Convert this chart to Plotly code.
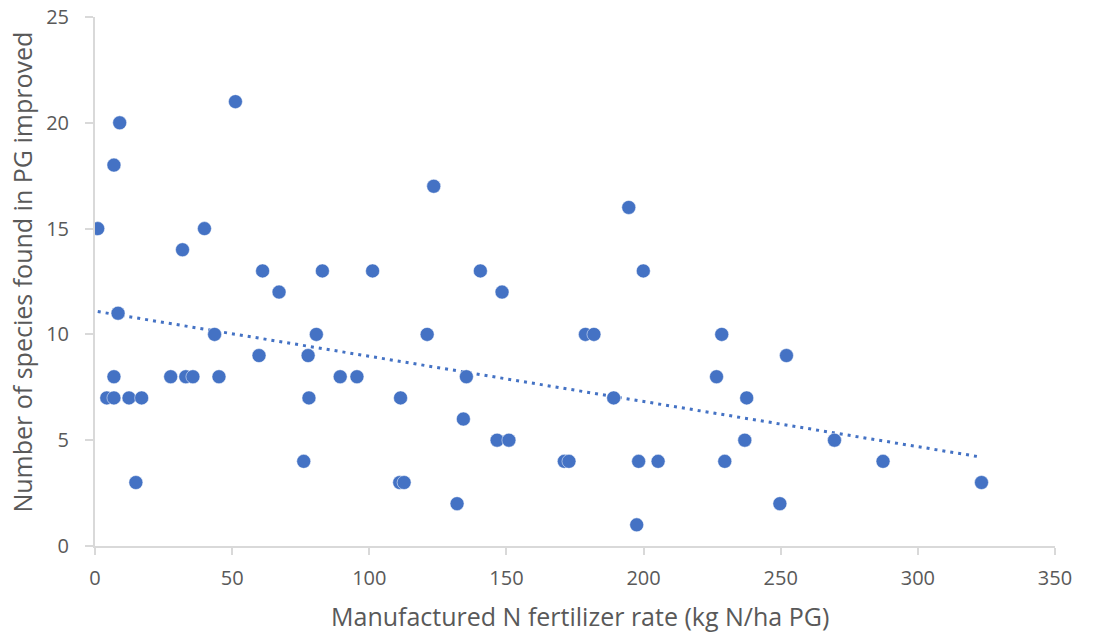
import numpy as np
import plotly.graph_objects as go

n_rate = [1.0, 6.9, 9.0, 51.2, 31.9, 39.9, 61.1, 67.1, 82.9, 8.4,
          4.3, 6.9, 6.9, 12.4, 17.0, 14.9, 27.6, 33.1, 35.7, 45.2,
          43.6, 59.8, 77.7, 78.0, 76.1, 80.7, 89.4, 95.5, 123.5, 194.6,
          101.2, 140.5, 199.9, 148.4, 121.1, 178.8, 181.9, 228.5, 135.4, 226.6,
          111.4, 189.1, 134.3, 146.6, 150.9, 171.1, 172.8, 198.2, 205.3, 229.6,
          111.1, 112.7, 132.0, 197.5, 252.1, 237.6, 236.9, 269.6, 287.3, 323.2,
          249.7]
species = [15, 18, 20, 21, 14, 15, 13, 12, 13, 11,
           7, 7, 8, 7, 7, 3, 8, 8, 8, 8,
           10, 9, 9, 7, 4, 10, 8, 8, 17, 16,
           13, 13, 13, 12, 10, 10, 10, 10, 8, 8,
           7, 7, 6, 5, 5, 4, 4, 4, 4, 4,
           3, 3, 2, 1, 9, 7, 5, 5, 4, 3,
           2]

x_ticks = [0, 50, 100, 150, 200, 250, 300, 350]
y_ticks = [0, 5, 10, 15, 20, 25]

x_title = "Manufactured N fertilizer rate (kg N/ha PG)"
y_title = "Number of species found in PG improved"

blue = "#4472C4"
xa = np.array(n_rate)
ya = np.array(species)
slope, intercept = np.polyfit(xa, ya, 1)
tx = np.array([xa.min(), xa.max()])
ty = slope * tx + intercept

fig = go.Figure()
fig.add_trace(go.Scatter(x=list(tx), y=list(ty), mode="lines",
                         line=dict(color=blue, width=3, dash="3px,5px"),
                         hoverinfo="skip", showlegend=False))
fig.add_trace(go.Scatter(x=n_rate, y=species, mode="markers",
                         marker=dict(color=blue, size=14,
                                     line=dict(color="white", width=0.5)),
                         showlegend=False))

axis_font = dict(family="Open Sans, sans-serif", size=20, color="#595959")
title_font = dict(family="Open Sans, sans-serif", size=25, color="#595959")

fig.update_layout(
    width=1098, height=634,
    margin=dict(l=95, r=43, t=17, b=88, autoexpand=False),
    plot_bgcolor="white", paper_bgcolor="white",
    xaxis=dict(range=[0, 350], tickvals=x_ticks, showgrid=False, zeroline=False,
               showline=True, linecolor="#D9D9D9", linewidth=2, automargin=False,
               ticks="outside", ticklen=7, tickcolor="#D9D9D9", tickwidth=2,
               ticklabelstandoff=6, tickfont=axis_font),
    yaxis=dict(range=[0, 25], tickvals=y_ticks, showgrid=False, zeroline=False,
               showline=True, linecolor="#D9D9D9", linewidth=2, automargin=False,
               ticks="outside", ticklen=8, tickcolor="#D9D9D9", tickwidth=2,
               ticklabelstandoff=12, tickfont=axis_font),
    annotations=[
        dict(text=x_title, xref="paper", yref="paper", x=0.5057, y=-0.132,
             xanchor="center", yanchor="middle", showarrow=False, font=title_font),
        dict(text=y_title, xref="paper", yref="paper", x=-0.077, y=0.517,
             xanchor="center", yanchor="middle", textangle=-90, showarrow=False,
             font=title_font),
    ],
)

fig.write_html("out.html")
